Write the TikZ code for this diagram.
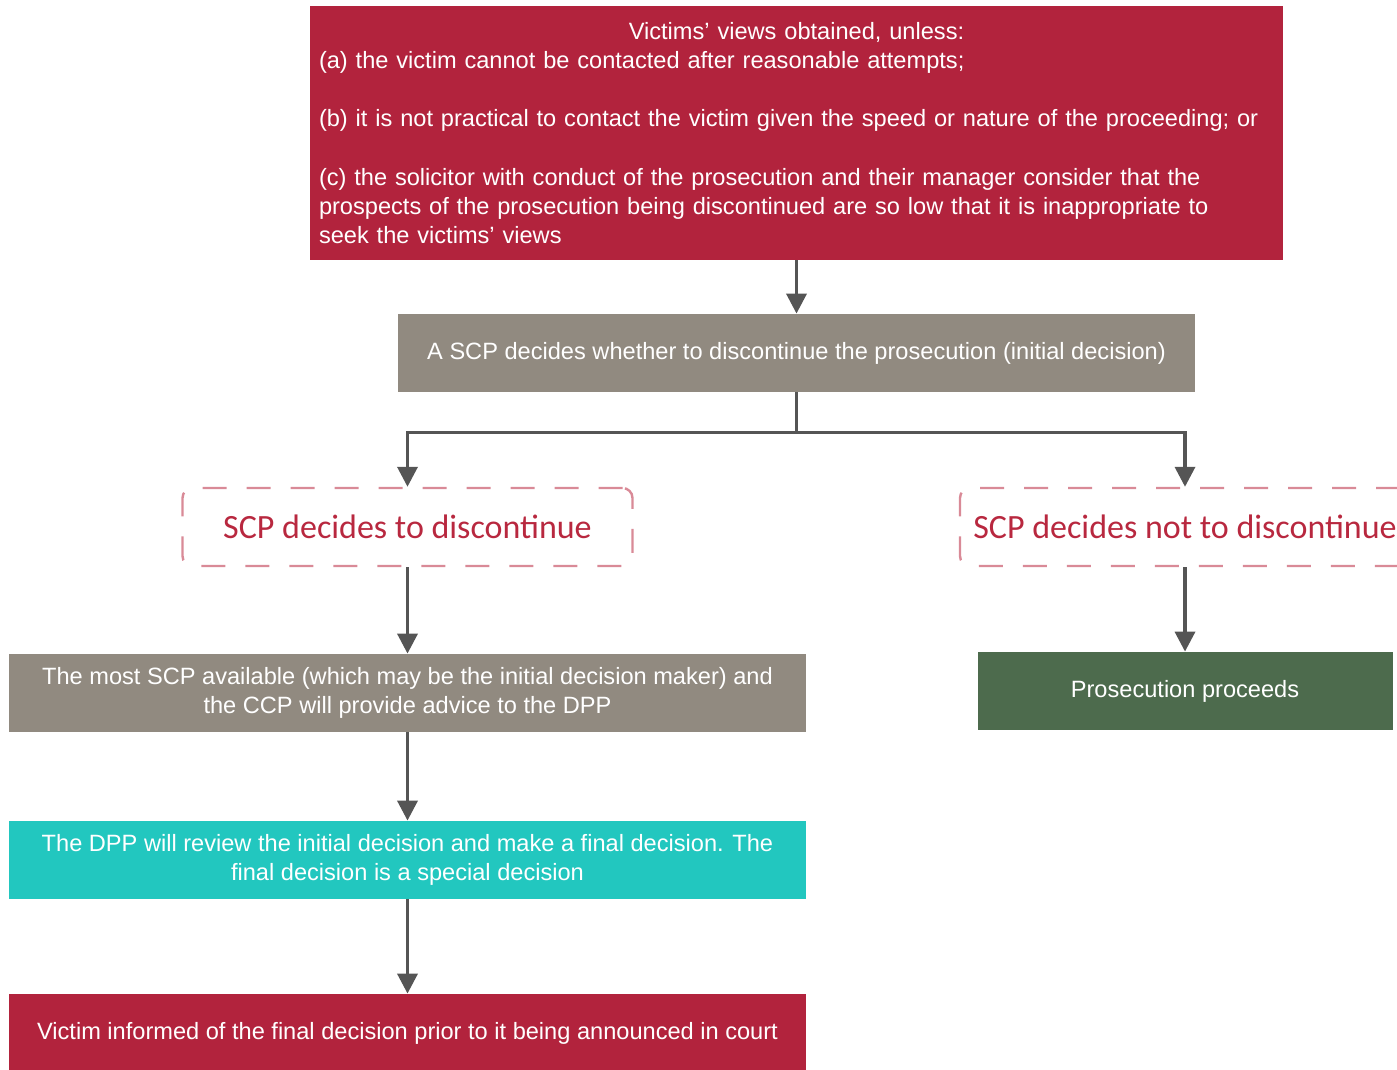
\documentclass[tikz,border=0pt]{standalone}
\usepackage{fontspec}
\setmainfont{Liberation Sans}
\newfontfamily\calibri{Carlito}
\usetikzlibrary{arrows.meta}
\definecolor{crimson}{HTML}{B2233D}
\definecolor{stone}{HTML}{918A80}
\definecolor{moss}{HTML}{4D6B4D}
\definecolor{teal}{HTML}{22C7BF}
\definecolor{dashpink}{HTML}{D98A97}
\definecolor{choicetext}{HTML}{B8283F}
\definecolor{arrowgray}{HTML}{555555}
\begin{document}
\begin{tikzpicture}[x=0.5pt, y=-0.5pt, >={Triangle[length=10pt,width=10pt]},
    box/.style={minimum height=39pt, inner sep=0pt, text=white, align=center, font=\fontsize{11.8}{14.6}\selectfont},
    choice/.style={draw=dashpink, dash pattern=on 12pt off 10pt, line width=1.2pt, rounded corners=5pt,
        minimum width=225pt, minimum height=39pt, text=choicetext, font=\calibri\fontsize{17}{20}\selectfont},
    arr/.style={->, draw=arrowgray, line width=1.8pt}]
        \useasboundingbox (0,0) rectangle (1397,1070);

        \node[box, fill=crimson, minimum width=486.5pt, minimum height=127pt, text width=477.5pt, align=left] (views) at (796.5,133)
            {\makebox[\linewidth]{Victims' views obtained, unless:}\\
            (a) the victim cannot be contacted after reasonable attempts;\\[14.6pt]
            (b) it is not practical to contact the victim given the speed or nature of the proceeding; or\\[14.6pt]
            (c) the solicitor with conduct of the prosecution and their manager consider that the\\
            prospects of the prosecution being discontinued are so low that it is inappropriate to\\
            seek the victims' views};
        \node[box, fill=stone, minimum width=398.5pt] (initial) at (796.5,353) {A SCP decides whether to discontinue the prosecution (initial decision)};
        \node[choice] (stop) at (407.5,527) {SCP decides to discontinue};
        \node[choice] (go) at (1185,527) {SCP decides not to discontinue};
        \node[box, fill=stone, minimum width=398.5pt] (advice) at (407.5,693) {The most SCP available (which may be the initial decision maker) and\\ the CCP will provide advice to the DPP};
        \node[box, fill=moss, minimum width=207.5pt] (proceeds) at (1185,691) {Prosecution proceeds};
        \node[box, fill=teal, minimum width=398.5pt] (review) at (407.5,860) {The DPP will review the initial decision and make a final decision. The\\ final decision is a special decision};
        \node[box, fill=crimson, minimum width=398.5pt] (informed) at (407.5,1033) {Victim informed of the final decision prior to it being announced in court};

        \draw[arr](views)--(initial);
        \draw[arr](initial.south)--++(0,40)-|(stop.north);
        \draw[arr](initial.south)--++(0,40)-|(go.north);
        \draw[arr](stop)--(advice);
        \draw[arr](go)--(proceeds);
        \draw[arr](advice)--(review);
        \draw[arr](review)--(informed);
    \end{tikzpicture}
\end{document}
